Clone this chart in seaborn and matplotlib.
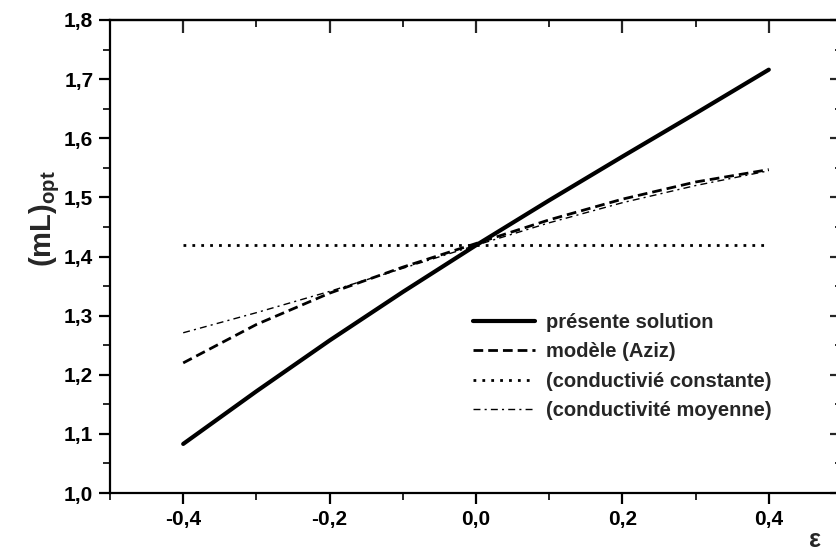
import matplotlib
matplotlib.use("Agg")
import matplotlib.pyplot as plt
import seaborn as sns
import pandas as pd
from matplotlib.ticker import MultipleLocator, FuncFormatter, NullFormatter

# epsilon values and optimum mL for each model
eps = [-0.4, -0.3, -0.2, -0.1, 0.0, 0.1, 0.2, 0.3, 0.4]
presente = [1.083, 1.172, 1.258, 1.340, 1.419, 1.495, 1.569, 1.642, 1.716]
aziz = [1.220, 1.285, 1.338, 1.382, 1.422, 1.462, 1.497, 1.526, 1.547]
constante = [1.419, 1.419, 1.419, 1.419, 1.419, 1.419, 1.419, 1.419, 1.419]
moyenne = [1.271, 1.305, 1.341, 1.380, 1.419, 1.457, 1.491, 1.520, 1.545]

labels = ["présente solution", "modèle (Aziz)",
          "(conductivié constante)", "(conductivité moyenne)"]

sns.set_style("ticks")
plt.rcParams["font.family"] = ["Liberation Sans", "DejaVu Sans"]
plt.rcParams["mathtext.fontset"] = "custom"
plt.rcParams["mathtext.rm"] = "Liberation Sans:bold"
plt.rcParams["mathtext.bf"] = "Liberation Sans:bold"
plt.rcParams["mathtext.it"] = "Liberation Sans:bold"

W, H = 836, 555
fig = plt.figure(figsize=(W / 100, H / 100), dpi=100)
left, right, top, bottom = 110, 842, 20, 493
ax = fig.add_axes([left / W, (H - bottom) / H, (right - left) / W, (bottom - top) / H])

df = pd.DataFrame({"eps": eps, "presente": presente, "aziz": aziz,
                   "constante": constante, "moyenne": moyenne})

sns.lineplot(data=df, x="eps", y="presente", ax=ax, color="black", lw=3.0,
             linestyle="-", label=labels[0])
sns.lineplot(data=df, x="eps", y="aziz", ax=ax, color="black", lw=2.0,
             linestyle=(0, (3.5, 1.8)), label=labels[1])
sns.lineplot(data=df, x="eps", y="constante", ax=ax, color="black", lw=2.0,
             linestyle=(0, (1, 2.2)), label=labels[2])
sns.lineplot(data=df, x="eps", y="moyenne", ax=ax, color="black", lw=1.0,
             linestyle=(0, (5, 3, 1.5, 3)), label=labels[3])

ax.set_xlim(-0.5, 0.5)
ax.set_ylim(1.0, 1.8)

fmt = FuncFormatter(lambda v, p: f"{v:.1f}".replace(".", ",").replace("−", "-")
                    if abs(v) > 1e-9 else "0,0")


def set_locators(axis_x, axis_y):
    if axis_x is not None:
        axis_x.set_major_locator(MultipleLocator(0.2))
        axis_x.set_minor_locator(MultipleLocator(0.1))
    if axis_y is not None:
        axis_y.set_major_locator(MultipleLocator(0.1))
        axis_y.set_minor_locator(MultipleLocator(0.05))


set_locators(ax.xaxis, ax.yaxis)
ax.xaxis.set_major_formatter(fmt)
ax.yaxis.set_major_formatter(fmt)

for s in ax.spines.values():
    s.set_linewidth(1.6)
    s.set_color("black")

ax.tick_params(axis="both", which="major", labelsize=15, width=1.6, length=8,
               colors="black", pad=4, direction="out")
ax.tick_params(axis="both", which="minor", width=1.4, length=5, direction="out")
for lab in ax.get_xticklabels() + ax.get_yticklabels():
    lab.set_fontweight("bold")

# inward ticks on the top and right edges, without labels
sec_top = ax.secondary_xaxis("top")
set_locators(sec_top.xaxis, None)
sec_top.xaxis.set_major_formatter(NullFormatter())
sec_top.tick_params(which="major", direction="in", length=9, width=1.6)
sec_top.tick_params(which="minor", direction="in", length=5, width=1.4)
sec_top.spines["top"].set_linewidth(1.6)

sec_right = ax.secondary_yaxis("right")
set_locators(None, sec_right.yaxis)
sec_right.yaxis.set_major_formatter(NullFormatter())
sec_right.tick_params(which="major", direction="in", length=9, width=1.6)
sec_right.tick_params(which="minor", direction="in", length=5, width=1.4)
sec_right.spines["right"].set_linewidth(1.6)

ax.set_xlabel("")
ax.set_ylabel(r"$\mathbf{(mL)_{opt}}$", fontsize=21)
ax.yaxis.set_label_coords(-0.066, 0.58)
ax.text(0.963, -0.10, "ε", transform=ax.transAxes, fontsize=18,
        fontweight="bold", ha="center", va="center")

leg = ax.legend(loc="upper left", bbox_to_anchor=((473 - left) / (right - left),
                (bottom - 313) / (bottom - top)),
                frameon=False, fontsize=14.5, handlelength=3.1, handletextpad=0.5,
                labelspacing=0.52, borderpad=0, borderaxespad=0)
for t in leg.get_texts():
    t.set_fontweight("bold")

fig.savefig("out.png", dpi=100)
